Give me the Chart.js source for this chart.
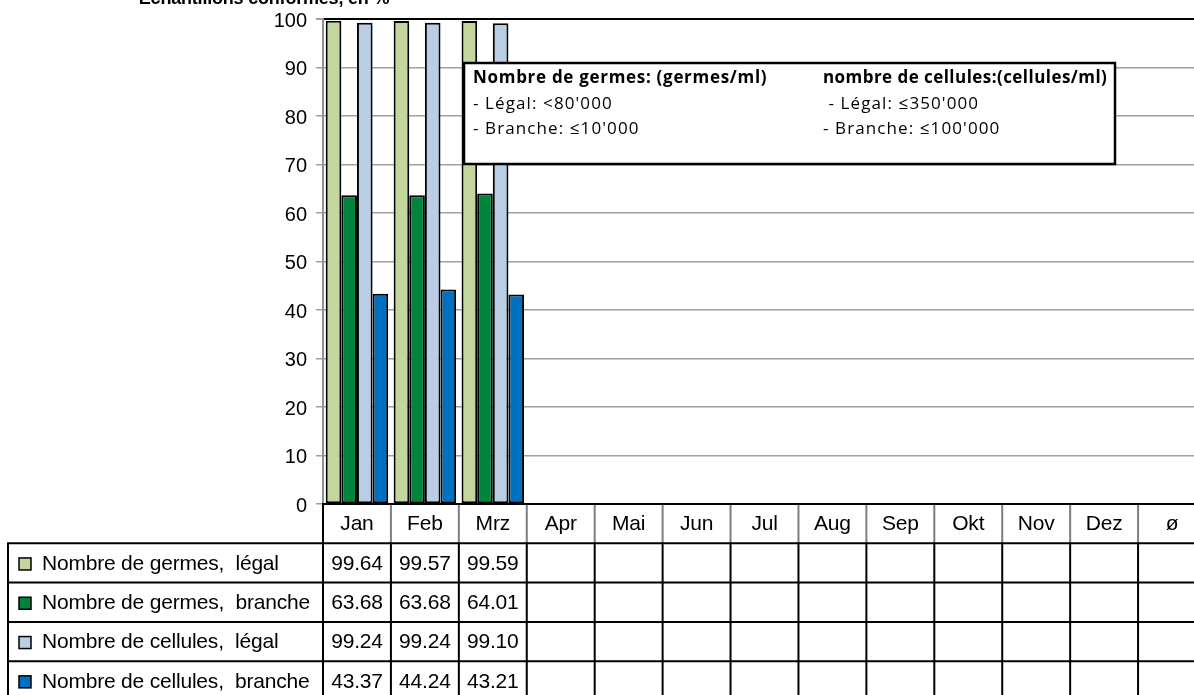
<!DOCTYPE html>
<html>
<head>
<meta charset="utf-8">
<script src="https://cdn.jsdelivr.net/npm/chart.js@4/dist/chart.umd.min.js"></script>
<style>
	html, body { margin: 0; padding: 0; background: #fff; overflow: hidden; }
	#wrap { position: absolute; left: 0; top: 0; width: 1215px; height: 695px; }
</style>
</head>
<body>
<div id="wrap"><canvas id="chart"></canvas></div>
<script>
// Chart data
const MONTHS = ["Jan", "Feb", "Mrz", "Apr", "Mai", "Jun", "Jul", "Aug", "Sep", "Okt", "Nov", "Dez", "ø"];
const SERIES_NAMES = ["Nombre de germes,  légal", "Nombre de germes,  branche", "Nombre de cellules,  légal", "Nombre de cellules,  branche"];
const GERMES_LEGAL = [99.64, 99.57, 99.59];
const GERMES_BRANCHE = [63.68, 63.68, 64.01];
const CELLULES_LEGAL = [99.24, 99.24, 99.10];
const CELLULES_BRANCHE = [43.37, 44.24, 43.21];
const SERIES_COLORS = ["#c3d69b", "#00843d", "#b9cde5", "#0070c0"];
const TITLE = "Echantillons conformes, en %";
const NOTE_LEFT = ["Nombre de germes: (germes/ml)", "- Légal: <80'000", "- Branche: ≤10'000"];
const NOTE_RIGHT = ["nombre de cellules:(cellules/ml)", " - Légal: ≤350'000", "- Branche: ≤100'000"];

const SERIES_VALUES = [GERMES_LEGAL, GERMES_BRANCHE, CELLULES_LEGAL, CELLULES_BRANCHE];
const ROW_H = 39.3;
const TABLE_LEFT = 8;
const FONT = "'Liberation Sans', Arial, sans-serif";

//---------------------------------------------------------
// Data table under the plot (Excel style)
//---------------------------------------------------------
const dataTable = {
	id: "dataTable",
	afterDraw(chart) {
		const { ctx, chartArea: area, scales } = chart;
		const colW = (area.right - area.left) / MONTHS.length;
		const top = area.bottom;
		const bottom = top + 6 * ROW_H;
		ctx.save();
		ctx.lineWidth = 2;

		// header row separators (grey)
		ctx.strokeStyle = "#7f7f7f";
		ctx.beginPath();
		for (let c = 1; c <= MONTHS.length; c++) {
			const x = area.left + c * colW;
			ctx.moveTo(x, top);
			ctx.lineTo(x, top + ROW_H);
		}
		ctx.stroke();

		// grid of the table (black)
		ctx.strokeStyle = "#000";
		ctx.beginPath();
		ctx.moveTo(area.left - 1, top);
		ctx.lineTo(area.right + 20, top);
		for (let r = 1; r <= SERIES_NAMES.length + 1; r++) {
			ctx.moveTo(TABLE_LEFT - 1, top + r * ROW_H);
			ctx.lineTo(area.right + 20, top + r * ROW_H);
		}
		ctx.moveTo(TABLE_LEFT, top + ROW_H);
		ctx.lineTo(TABLE_LEFT, bottom);
		ctx.moveTo(area.left, top);
		ctx.lineTo(area.left, bottom);
		for (let c = 1; c <= MONTHS.length; c++) {
			const x = area.left + c * colW;
			ctx.moveTo(x, top + ROW_H);
			ctx.lineTo(x, bottom);
		}
		ctx.stroke();

		// month labels
		ctx.fillStyle = "#000";
		ctx.font = "21px " + FONT;
		ctx.letterSpacing = "-0.2px";
		ctx.textAlign = "center";
		ctx.textBaseline = "middle";
		MONTHS.forEach((m, i) => {
			ctx.fillText(m, scales.x.getPixelForValue(i), top + ROW_H / 2 + 1);
		});

		// rows
		SERIES_NAMES.forEach((name, r) => {
			const cy = top + (r + 1.5) * ROW_H + 1;
			ctx.fillStyle = SERIES_COLORS[r];
			ctx.fillRect(TABLE_LEFT + 11, cy - 6, 12, 12);
			ctx.lineWidth = 1.5;
			ctx.strokeRect(TABLE_LEFT + 11, cy - 6, 12, 12);
			ctx.fillStyle = "#000";
			ctx.textAlign = "left";
			ctx.fillText(name, TABLE_LEFT + 34, cy);
			ctx.textAlign = "center";
			SERIES_VALUES[r].forEach((v, i) => {
				ctx.fillText(v.toFixed(2), scales.x.getPixelForValue(i), cy);
			});
		});
		ctx.restore();
	},
};

//---------------------------------------------------------
// Title and note box
//---------------------------------------------------------
const extras = {
	id: "extras",
	afterDraw(chart) {
		const { ctx, chartArea: area } = chart;
		ctx.save();
		ctx.fillStyle = "#000";
		ctx.font = "bold 18px " + FONT;
		ctx.letterSpacing = "-0.2px";
		ctx.textAlign = "center";
		ctx.textBaseline = "alphabetic";
		ctx.fillText(TITLE, 264, 4);

		// note box
		const bx = area.left + 141, by = 63, bw = 651, bh = 101;
		ctx.fillStyle = "#fff";
		ctx.fillRect(bx, by, bw, bh);
		ctx.lineWidth = 2.5;
		ctx.strokeStyle = "#000";
		ctx.strokeRect(bx, by, bw, bh);
		ctx.fillStyle = "#000";
		ctx.textAlign = "left";
		[NOTE_LEFT, NOTE_RIGHT].forEach((lines, k) => {
			const x = bx + (k === 0 ? 9 : 359);
			lines.forEach((t, j) => {
				ctx.font = (j === 0 ? "bold " : "") + "17px 'Open Sans', sans-serif";
				ctx.letterSpacing = j === 0 ? (k === 0 ? "0.7px" : "0.45px") : "1.1px";
				ctx.fillText(t, x, by + 20 + j * 25.5);
			});
		});
		ctx.restore();
	},
};

const CHART_DATA = {
	labels: MONTHS,
	datasets: SERIES_NAMES.map((name, i) => ({
		label: name,
		data: SERIES_VALUES[i],
		backgroundColor: SERIES_COLORS[i],
		borderColor: "#000",
		borderWidth: 2,
		borderSkipped: false,
		categoryPercentage: 0.92,
		barPercentage: 1,
	})),
};

const CHART_CONFIG = {
	type: "bar",
	data: CHART_DATA,
	options: {
		responsive: true,
		maintainAspectRatio: false,
		animation: false,
		layout: { padding: { top: 18, right: 9, bottom: 191, left: 0 } },
		plugins: {
			legend: { display: false },
			tooltip: { enabled: false },
		},
		scales: {
			x: {
				display: false,
				offset: true,
			},
			y: {
				min: 0,
				max: 100,
				afterFit: (scale) => { scale.width = 323; },
				ticks: {
					stepSize: 10,
					color: "#000",
					padding: 9,
					labelOffset: 2,
					font: { family: FONT, size: 20, lineHeight: 1 },
				},
				grid: {
					color: (c) => (c.tick && c.tick.value === 100 ? "#000" : "#a0a0a0"),
					lineWidth: (c) => (c.tick && c.tick.value === 100 ? 2 : 1.5),
					tickLength: 7,
					tickColor: "#a0a0a0",
				},
				border: { color: "#909090", width: 2 },
			},
		},
	},
	plugins: [dataTable, extras],
};

new Chart(document.getElementById("chart"), CHART_CONFIG);
</script>
</body>
</html>
